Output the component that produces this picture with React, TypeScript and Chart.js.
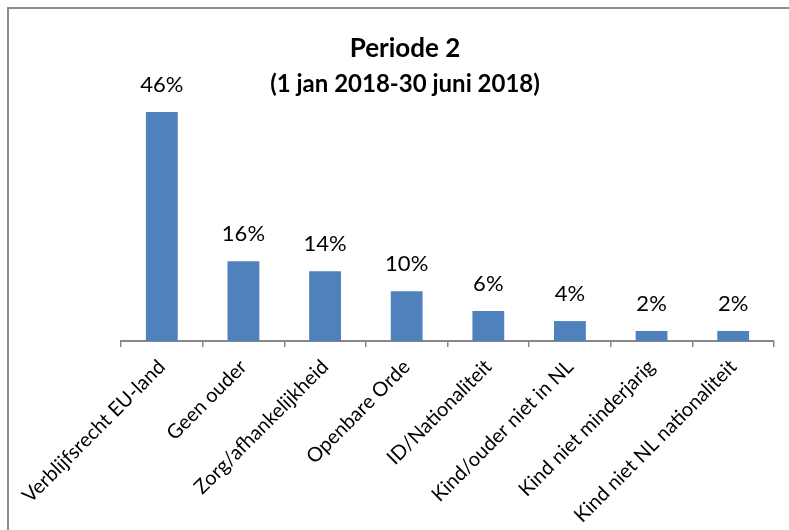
import React, { useEffect, useRef } from "react";
import { Chart, registerables } from "chart.js";

Chart.register(...registerables);

const categories: string[] = [
  "Verblijfsrecht EU-land",
  "Geen ouder",
  "Zorg/afhankelijkheid",
  "Openbare Orde",
  "ID/Nationaliteit",
  "Kind/ouder niet in NL",
  "Kind niet minderjarig",
  "Kind niet NL nationaliteit",
];
const percentages: number[] = [46, 16, 14, 10, 6, 4, 2, 2];
const titleLines: string[] = ["Periode 2", "(1 jan 2018-30 juni 2018)"];

const FONT = "Lato, 'Open Sans', sans-serif";
const BAR_COLOR = "#4F81BD";
const AXIS_COLOR = "#878787";

const framePlugin = {
  id: "frame",
  beforeDraw(chart: any) {
    const ctx = chart.ctx;
    ctx.save();
    ctx.fillStyle = "#ffffff";
    ctx.fillRect(0, 0, chart.width, chart.height);
    ctx.fillStyle = "#8c8c8c";
    ctx.fillRect(7, 7, chart.width - 7, 2);
    ctx.fillRect(7, 7, 2, chart.height - 7);
    ctx.restore();
  },
};

const headerPlugin = {
  id: "header",
  afterDraw(chart: any) {
    const ctx = chart.ctx;
    ctx.save();
    ctx.fillStyle = "#000000";
    ctx.textAlign = "center";
    ctx.textBaseline = "alphabetic";
    ctx.font = `bold 26px ${FONT}`;
    ctx.fillText(titleLines[0], 405, 57);
    ctx.font = `bold 24px ${FONT}`;
    ctx.fillText(titleLines[1], 405, 92);
    ctx.restore();
  },
};

const valueLabelPlugin = {
  id: "valueLabels",
  afterDatasetsDraw(chart: any) {
    const ctx = chart.ctx;
    const meta = chart.getDatasetMeta(0);
    ctx.save();
    ctx.fillStyle = "#000000";
    ctx.textAlign = "center";
    ctx.textBaseline = "alphabetic";
    ctx.font = `22px ${FONT}`;
    meta.data.forEach((bar: any, i: number) => {
      const v = chart.data.datasets[0].data[i];
      ctx.fillText(`${v}%`, bar.x, bar.y - 20);
    });
    ctx.restore();
  },
};

export default function App() {
  const canvasRef = useRef<HTMLCanvasElement | null>(null);

  useEffect(() => {
    if (!canvasRef.current) return;
    const chart = new Chart(canvasRef.current, {
      type: "bar",
      data: {
        labels: categories,
        datasets: [
          {
            data: percentages,
            backgroundColor: BAR_COLOR,
            borderWidth: 0,
            categoryPercentage: 1,
            barPercentage: 0.39,
          },
        ],
      },
      options: {
        responsive: false,
        animation: false,
        events: [],
        layout: {
          padding: { left: 121, right: 15, top: 92, bottom: 0 },
        },
        plugins: {
          legend: { display: false },
          title: { display: false },
          tooltip: { enabled: false },
        },
        scales: {
          x: {
            offset: true,
            grid: {
              display: true,
              offset: true,
              drawOnChartArea: false,
              drawTicks: true,
              tickLength: 6,
              color: AXIS_COLOR,
              lineWidth: 1.5,
            },
            border: { display: true, color: AXIS_COLOR, width: 2 },
            ticks: {
              autoSkip: false,
              maxRotation: 45,
              minRotation: 45,
              padding: 8,
              color: "#000000",
              font: { family: FONT, size: 20 },
            },
            afterFit(scale: any) {
              scale.height = 189;
            },
          },
          y: {
            display: false,
            min: 0,
            max: 50,
          },
        },
      },
      plugins: [framePlugin, valueLabelPlugin, headerPlugin],
    });
    return () => chart.destroy();
  }, []);

  return (
    <div style={{ position: "absolute", left: 0, top: 0, width: 789, height: 530 }}>
      <canvas ref={canvasRef} width={789} height={530} style={{ display: "block" }} />
    </div>
  );
}
